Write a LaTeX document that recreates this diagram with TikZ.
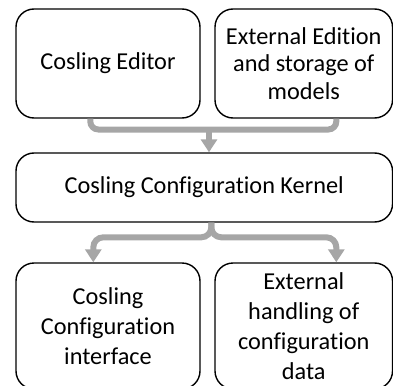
\documentclass[tikz,border=0pt]{standalone}
\usepackage{fontspec}
\setmainfont{Carlito}[Ligatures=NoCommon]
\usetikzlibrary{arrows.meta,calc}
\definecolor{conngray}{RGB}{166,166,166}
\tikzset{
  box/.style={draw=black, line width=1.4pt, rounded corners=18pt, align=center,
    inner sep=0pt, font=\fontsize{24.3}{30}\selectfont},
  gline/.style={draw=conngray, line width=6pt},
  garrow/.style={draw=conngray, line width=6pt, -{Triangle[width=16pt,length=13pt]}},
}
\begin{document}
\begin{tikzpicture}[x=1pt,y=-1pt]
\useasboundingbox (0,0) rectangle (393,385);
\node[box, minimum width=184pt, minimum height=109pt] (tl) at (108,63.5) {Cosling Editor};
\node[box, minimum width=177.5pt, minimum height=109pt, font=\fontsize{24.3}{27.5}\selectfont] (tr) at (303.75,63.5) {External Edition\\and storage of\\models};
\node[box, minimum width=376.5pt, minimum height=69pt] (mk) at (204.25,187.5) {Cosling Configuration Kernel};
\node[box, minimum width=184pt, minimum height=126pt] (bl) at (108,326) {Cosling\\Configuration\\interface};
\node[box, minimum width=177.5pt, minimum height=126pt] (br) at (303.75,326) {External\\handling of\\configuration\\data};
\coordinate (j1) at (209,129.5);
\draw[gline, rounded corners=8pt] ($(tl.south west)+(75,0)$) |- (j1) -| ($(tr.south west)+(122,0)$);
\draw[garrow] (j1) -- (j1 |- mk.north);
\draw[garrow, rounded corners=10pt] ($(mk.south west)+(196,0)$) |- ($(bl.north west)+(78,-25)$) -- ($(bl.north west)+(78,0)$);
\draw[garrow, rounded corners=10pt] ($(mk.south west)+(196,0)$) |- ($(br.north west)+(122,-25)$) -- ($(br.north west)+(122,0)$);
\end{tikzpicture}
\end{document}
